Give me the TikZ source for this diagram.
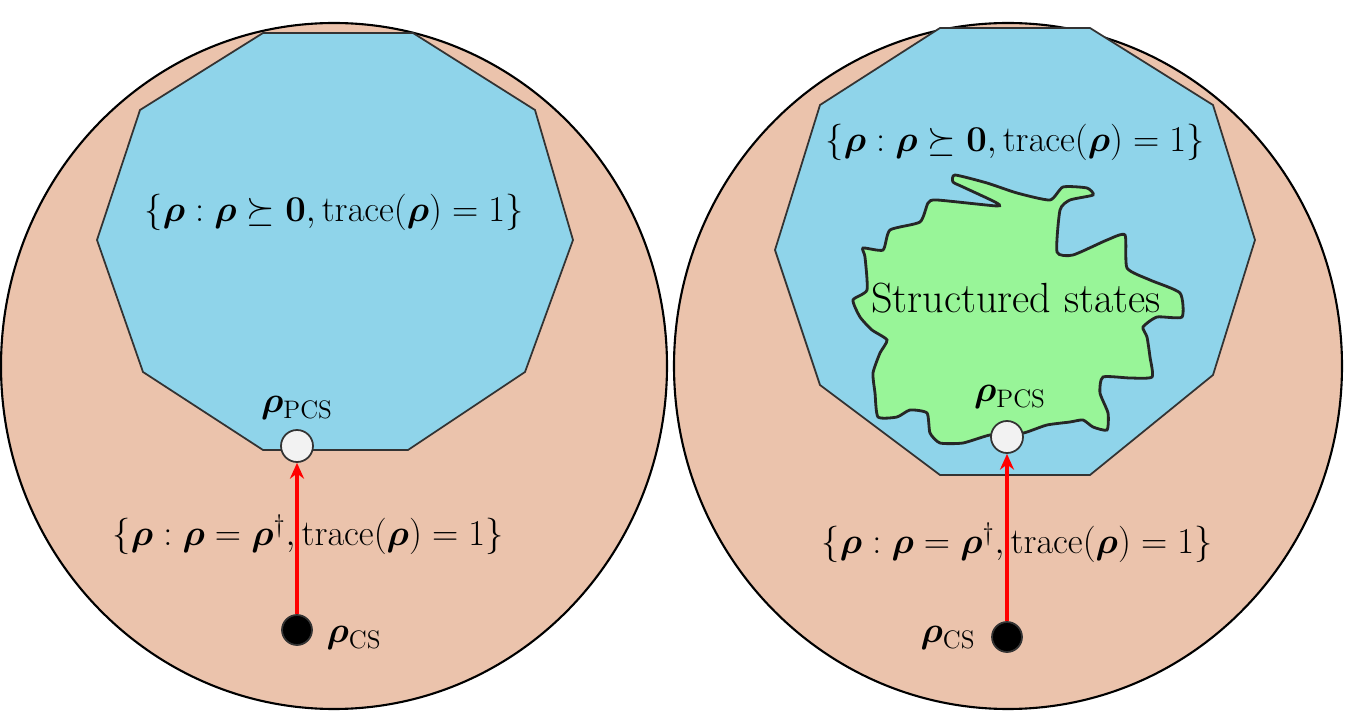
\documentclass[tikz,border=0pt]{standalone}
\usepackage{amsmath,amssymb,bm}
\usetikzlibrary{arrows.meta}
\definecolor{peach}{HTML}{EBC3AC}
\definecolor{sky}{HTML}{8FD4EA}
\definecolor{mint}{HTML}{98F598}
\definecolor{pale}{HTML}{F2F2F2}
\tikzset{
 outer/.style={draw=black,line width=1.2pt,fill=peach},
 poly/.style={draw=black!80,line width=1pt,fill=sky},
 blob/.style={draw=black!85,line width=1.6pt,fill=mint},
 hole/.style={circle,draw=black!80,line width=1pt,fill=pale,minimum size=32*0.02cm,inner sep=0pt},
 dot/.style={circle,draw=black!80,line width=1pt,fill=black,minimum size=30*0.02cm,inner sep=0pt},
 lbl/.style={font=\fontsize{20}{24}\selectfont},
 big/.style={font=\fontsize{24}{28}\selectfont},
 arr/.style={red,line width=2.2pt,-{Stealth[length=9pt,width=8pt]}}
}
\begin{document}
\begin{tikzpicture}[x=0.02cm,y=-0.02cm]
\useasboundingbox (0,0) rectangle (1350,719);
\fill[white] (0,0) rectangle (1350,719);
% left
\draw[outer] (334,366) ellipse (333 and 343);
\draw[poly] (263,33)--(413,33)--(535,110)--(573,240)--(525,372)--(408,450)--(263,450)--(143,372)--(97,240)--(140,110)--cycle;
\node[lbl] (l1) at (334,212) {$\{\bm\rho:\bm\rho\succeq\mathbf 0,\mathrm{trace}(\bm\rho)=1\}$};
\node[lbl] (l2) at (308,535) {$\{\bm\rho:\bm\rho=\bm\rho^\dagger,\mathrm{trace}(\bm\rho)=1\}$};
\node[hole] (lp) at (297,446) {};
\node[dot] (lc) at (297,630) {};
\node[lbl] (lpl) at (297,408) {$\bm\rho_{\mathrm{PCS}}$};
\node[lbl] (lcl) at (354,638) {$\bm\rho_{\mathrm{CS}}$};
\draw[arr] (lc) -- (lp);
% right
\draw[outer] (1008,366) ellipse (334 and 343);
\draw[poly] (940,28)--(1090,28)--(1213,105)--(1255,240)--(1213,375)--(1090,475)--(940,475)--(820,385)--(775,250)--(820,105)--cycle;
\draw[blob] plot[smooth cycle,tension=0.35] coordinates {(955,175)(953,182)(963,187)(995,202)(997,206)(937,200)(928,203)(920,222)(890,230)(883,250)(863,248)(865,257)(867,290)(853,300)(860,317)(872,330)(887,340)(880,353)(873,373)(875,393)(878,417)(897,417)(910,410)(927,413)(930,433)(940,443)(963,443)(990,435)(1007,437)(1027,432)(1047,425)(1070,422)(1083,420)(1093,427)(1107,430)(1108,413)(1100,393)(1103,377)(1130,378)(1152,377)(1150,357)(1147,337)(1143,327)(1157,317)(1182,317)(1180,293)(1150,280)(1127,268)(1125,235)(1107,240)(1073,255)(1057,252)(1060,210)(1070,200)(1093,195)(1087,188)(1063,187)(1050,200)(1017,193)(987,183)};
\node[lbl] (r1) at (1015,142) {$\{\bm\rho:\bm\rho\succeq\mathbf 0,\mathrm{trace}(\bm\rho)=1\}$};
\node[big] (rs) at (1016,298) {Structured states};
\node[lbl] (r2) at (1017,543) {$\{\bm\rho:\bm\rho=\bm\rho^\dagger,\mathrm{trace}(\bm\rho)=1\}$};
\node[hole] (rp) at (1007,437) {};
\node[dot] (rc) at (1007,637) {};
\node[lbl] (rpl) at (1010,397) {$\bm\rho_{\mathrm{PCS}}$};
\node[lbl] (rcl) at (948,638) {$\bm\rho_{\mathrm{CS}}$};
\draw[arr] (rc) -- (rp);
\end{tikzpicture}
\end{document}
